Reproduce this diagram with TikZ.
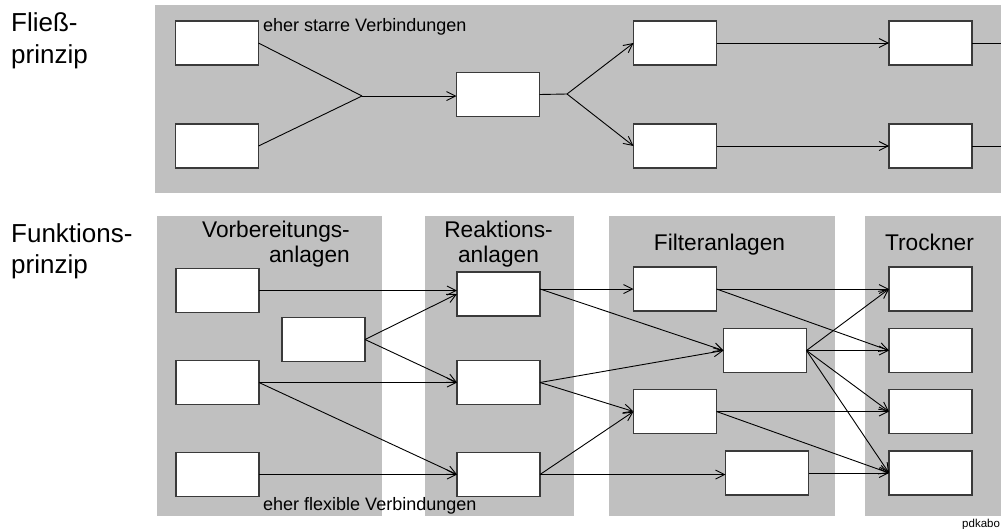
\documentclass[tikz,border=0pt]{standalone}
\usepackage{fontspec}
\setmainfont{Liberation Sans}
\usetikzlibrary{arrows.meta}
\definecolor{band}{RGB}{192,192,192}
\definecolor{edge}{RGB}{58,58,58}
\begin{document}
\begin{tikzpicture}[x=1pt,y=-1pt,
  box/.style={draw=edge, fill=white, line width=1.2pt, minimum width=83pt,
    minimum height=44pt, inner sep=0pt, outer sep=0pt},
  plain/.style={draw=black, line width=0.9pt},
  link/.style={plain, -{Straight Barb[length=9pt,width=9pt,line width=0.9pt]}},
  lbl/.style={inner sep=0pt, anchor=base west},
  ctr/.style={inner sep=0pt, anchor=base},
  rgt/.style={inner sep=0pt, anchor=base east},
  side/.style={font=\fontsize{26}{31}\selectfont},
  head/.style={font=\fontsize{22.7}{26}\selectfont},
  note/.style={font=\fontsize{18}{21}\selectfont},
  tiny/.style={font=\fontsize{11.5}{13}\selectfont}]
\useasboundingbox (0,0) rectangle (1001,528);
\clip (0,0) rectangle (1001,528);

% grey backgrounds
\fill[band] (155,5) rectangle (1010,193);
\fill[band] (157,216) rectangle (382,516);
\fill[band] (425,216) rectangle (574,516);
\fill[band] (609,216) rectangle (835,516);
\fill[band] (865,216) rectangle (1010,516);

% row labels
\node[lbl, side] (fl1) at (11,31.5) {Fließ-};
\node[lbl, side] (fl2) at (11,63) {prinzip};
\node[lbl, side] (fu1) at (11,242) {Funktions-};
\node[lbl, side] (fu2) at (11,273) {prinzip};

% column headings
\node[rgt, head] (hv1) at (350,237) {Vorbereitungs-};
\node[rgt, head] (hv2) at (350,262) {anlagen};
\node[ctr, head] (hr1) at (498.5,237) {Reaktions-};
\node[ctr, head] (hr2) at (498.5,262) {anlagen};
\node[ctr, head] (hf) at (719.5,250) {Filteranlagen};
\node[ctr, head] (ht) at (929.5,250) {Trockner};

% remarks
\node[lbl, note] (rigid) at (263,31) {eher starre Verbindungen};
\node[lbl, note] (flex) at (263,510) {eher flexible Verbindungen};
\node[lbl, tiny] (credit) at (962,527) {pdkabo};

% flow principle
\node[box] (A) at (217,43) {};
\node[box] (B) at (217,146) {};
\node[box] (C) at (498,94.5) {};
\node[box] (D) at (675,43) {};
\node[box] (E) at (675,146) {};
\node[box] (F) at (930.5,43) {};
\node[box] (G) at (930.5,146) {};
\coordinate (merge) at (362,96);
\coordinate (split) at (567,94);
\coordinate (rim) at (1010,0);

\draw[plain] (A.east) -- (merge);
\draw[plain] (B.east) -- (merge);
\draw[link] (merge) -- (merge -| C.west);
\draw[plain] (C.east) -- (split);
\draw[link] (split) -- (D.west);
\draw[link] (split) -- (E.west);
\draw[link] (D.east) -- (F.west);
\draw[link] (E.east) -- (G.west);
\draw[plain] (F.east) -- (F.east -| rim);
\draw[plain] (G.east) -- (G.east -| rim);

% function principle
\node[box] (V1) at (217.5,290.5) {};
\node[box] (V2) at (323.5,339.5) {};
\node[box] (V3) at (217.5,382.5) {};
\node[box] (V4) at (217.5,474.5) {};
\node[box] (R1) at (498.5,294) {};
\node[box] (R2) at (498.5,382.5) {};
\node[box] (R3) at (498.5,474.5) {};
\node[box] (F1) at (675,289) {};
\node[box] (F2) at (765,350.5) {};
\node[box] (F3) at (675,411.5) {};
\node[box] (F4) at (767,473) {};
\node[box] (T1) at (930.5,289) {};
\node[box] (T2) at (930.5,350.5) {};
\node[box] (T3) at (930.5,411.5) {};
\node[box] (T4) at (930.5,473) {};
\coordinate (R1o) at (R1.east |- F1.west);

\draw[link] (V1.east) -- (V1.east -| R1.west);
\draw[link] (V2.east) -- (R1.west);
\draw[link] (V2.east) -- (R2.west);
\draw[link] (V3.east) -- (R2.west);
\draw[link] (V3.east) -- (R3.west);
\draw[link] (V4.east) -- (R3.west);

\draw[link] (R1o) -- (F1.west);
\draw[link] (R1o) -- (F2.west);
\draw[link] (R2.east) -- (F2.west);
\draw[link] (R2.east) -- (F3.west);
\draw[link] (R3.east) -- (F3.west);
\draw[link] (R3.east) -- (R3.east -| F4.west);

\draw[link] (F1.east) -- (T1.west);
\draw[link] (F1.east) -- (T2.west);
\draw[link] (F2.east) -- (T1.west);
\draw[link] (F2.east) -- (T2.west);
\draw[link] (F2.east) -- (T3.west);
\draw[link] (F2.east) -- (T4.west);
\draw[link] (F3.east) -- (T3.west);
\draw[link] (F3.east) -- (T4.west);
\draw[link] (F4.east) -- (T4.west);
\end{tikzpicture}
\end{document}
